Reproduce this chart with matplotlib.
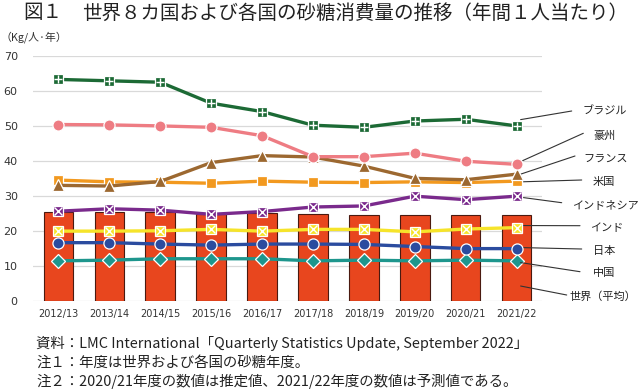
import matplotlib
matplotlib.use("Agg")
import matplotlib.pyplot as plt

plt.rcParams['font.family'] = ['Noto Sans CJK JP', 'DejaVu Sans']

years = ["2012/13", "2013/14", "2014/15", "2015/16", "2016/17",
         "2017/18", "2018/19", "2019/20", "2020/21", "2021/22"]
world = [25.3, 25.3, 25.3, 24.7, 25.0, 24.8, 24.5, 24.5, 24.5, 24.6]
brazil = [63.3, 62.9, 62.5, 56.5, 54.1, 50.2, 49.6, 51.4, 51.9, 50.0]
australia = [50.4, 50.3, 50.0, 49.6, 47.2, 41.2, 41.2, 42.2, 39.9, 39.0]
france = [33.0, 32.8, 34.1, 39.5, 41.5, 41.1, 38.5, 35.0, 34.6, 36.2]
usa = [34.5, 34.0, 33.9, 33.6, 34.2, 33.9, 33.8, 34.0, 33.8, 34.2]
indonesia = [25.6, 26.3, 25.9, 24.7, 25.5, 26.8, 27.1, 29.9, 28.9, 29.9]
india = [19.9, 19.9, 20.0, 20.4, 19.9, 20.4, 20.4, 19.7, 20.5, 20.9]
japan = [16.6, 16.6, 16.2, 15.9, 16.2, 16.2, 16.1, 15.5, 14.9, 14.9]
china = [11.4, 11.6, 12.0, 12.0, 12.0, 11.4, 11.6, 11.4, 11.6, 11.4]

W, H = 640, 392
fig = plt.figure(figsize=(6.4, 3.92), dpi=100)
ax = fig.add_axes([33 / W, 91.3 / H, 509 / W, 244.7 / H])

x = list(range(len(years)))
ax.bar(x, world, width=0.58, color="#E8461E", edgecolor="#4a1a10", linewidth=0.8, zorder=2)

def series(vals, color, marker, ms, overlay=None, z=3):
    ax.plot(x, vals, color=color, lw=2.4, marker=marker, ms=ms,
            markerfacecolor=color, markeredgecolor="white", markeredgewidth=0.9, zorder=z)
    if overlay:
        ax.plot(x, vals, ls="none", marker=overlay, ms=ms * 0.75, color="white",
                markeredgewidth=1.0, zorder=z + 0.1)

series(china, "#1E968D", "D", 7.0, z=3)
series(japan, "#2B4C9F", "o", 8.0, z=3.2)
series(india, "#F6E42A", "s", 7.0, overlay="x", z=3.4)
series(indonesia, "#7A2A8C", "s", 7.0, overlay="x", z=3.6)
series(usa, "#F2991F", "s", 7.5, z=3.8)
series(france, "#9C6830", "^", 8.0, z=4.0)
series(australia, "#EE7C83", "o", 8.0, z=4.2)
series(brazil, "#1C6A35", "s", 7.0, overlay="+", z=4.4)

ax.set_xlim(-0.5, 9.5)
ax.set_ylim(0, 70)
ax.set_yticks(range(0, 71, 10))
ax.set_xticks(x)
ax.set_xticklabels(years, fontsize=7, color="#333333", family="DejaVu Sans")
ax.tick_params(axis="y", labelsize=8, colors="#333333", length=0, pad=11)
ax.tick_params(axis="x", length=0, pad=6)
for lab in ax.get_yticklabels():
    lab.set_family("DejaVu Sans")
ax.grid(axis="y", color="#d9d9d9", lw=0.9, zorder=0)
ax.set_axisbelow(True)
for s in ax.spines.values():
    s.set_visible(False)

# right-side labels with leader lines
labels = ["ブラジル", "豪州", "フランス", "米国", "インドネシア", "インド", "日本", "中国", "世界（平均）"]
start_vals = [51.8, 39.8, 36.2, 34.0, 29.6, 21.5, 15.2, 10.9, 4.2]
line_end = [(571.7, 111), (583.3, 133.3), (575, 156), (581.7, 180), (561.7, 202.7),
            (580, 225.7), (581.7, 249), (580, 271.7), (566.7, 295)]
text_pos = [(583, 111.7), (593, 136), (583, 159), (593, 181.7), (572, 205),
            (590, 228), (593, 251), (593, 273), (569, 296.7)]
for lab, sv, le, tp in zip(labels, start_vals, line_end, text_pos):
    ax.annotate("", xy=(9.08, sv), xycoords="data", xytext=(le[0], H - le[1]),
                textcoords="figure pixels",
                arrowprops=dict(arrowstyle="-", color="#333333", lw=0.8,
                                shrinkA=0, shrinkB=0), annotation_clip=False)
    fig.text(tp[0] / W, 1 - tp[1] / H, lab, fontsize=8, color="#222222",
             ha="left", va="center")

# title and texts
fig.text(23 / W, 1 - 13 / H, "図１", fontsize=14, color="#222222", ha="left", va="center")
fig.text(82 / W, 1 - 13 / H, "世界８カ国および各国の砂糖消費量の推移（年間１人当たり）",
         fontsize=14, color="#222222", ha="left", va="center")
fig.text(0 / W, 1 - 37 / H, "（Kg/人·年）", fontsize=7.8, color="#333333", ha="left", va="center")

notes = ["資料：LMC International「Quarterly Statistics Update, September 2022」",
         "注１：年度は世界および各国の砂糖年度。",
         "注２：2020/21年度の数値は推定値、2021/22年度の数値は予測値である。"]
note_y = [343, 363, 381]
for t, yy in zip(notes, note_y):
    fig.text(36 / W, 1 - yy / H, t, fontsize=10.4, color="#222222", ha="left", va="center")

fig.savefig("out.png", dpi=100, facecolor="white")
